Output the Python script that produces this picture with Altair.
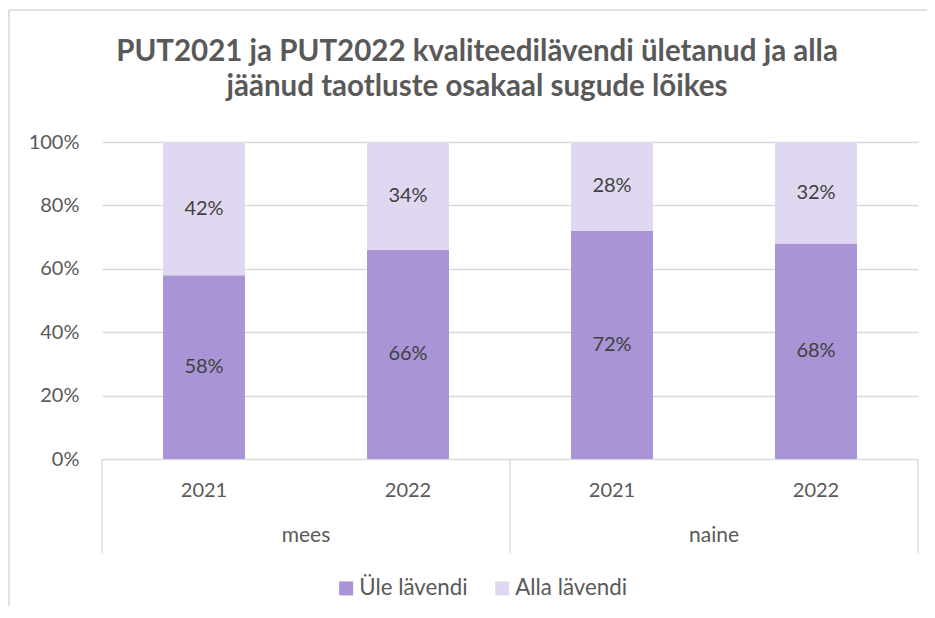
import altair as alt
import pandas as pd

# ---- data ----
genders = ["mees", "mees", "naine", "naine"]
years = ["2021", "2022", "2021", "2022"]
ule_values = [58, 66, 72, 68]      # Üle lävendi (%)
alla_values = [42, 34, 28, 32]     # Alla lävendi (%)
series_names = ["Üle lävendi", "Alla lävendi"]
series_colors = ["#A994D6", "#E0D8F0"]
title_lines = ["PUT2021 ja PUT2022 kvaliteedilävendi ületanud ja alla",
               "jäänud taotluste osakaal sugude lõikes"]
y_ticks = [0, 20, 40, 60, 80, 100]

FONT = "Lato"
TXT = "#595959"
GRID = "#D9D9D9"

# ---- tables built from the arrays ----
rows = []
for i, (g, yv, u, a) in enumerate(zip(genders, years, ule_values, alla_values)):
    pos = i + 0.5
    rows.append(dict(pos=pos, gender=g, year=yv, series=series_names[0], value=u, ord=0,
                     mid=u / 2, label=f"{u}%"))
    rows.append(dict(pos=pos, gender=g, year=yv, series=series_names[1], value=a, ord=1,
                     mid=u + a / 2, label=f"{a}%"))
df = pd.DataFrame(rows)

cats = pd.DataFrame({"pos": [i + 0.5 for i in range(len(years))], "year": years})
unique_g = list(dict.fromkeys(genders))
grp = pd.DataFrame({
    "gender": unique_g,
    "center": [sum(i + 0.5 for i, g in enumerate(genders) if g == ug) / genders.count(ug)
               for ug in unique_g],
})
seps = pd.DataFrame({"sep": [0] + [i + 1 for i in range(len(genders) - 1)
                                   if genders[i] != genders[i + 1]] + [len(genders)]})

xscale = alt.Scale(domain=[0, len(years)], nice=False, zero=False, padding=0)
yscale = alt.Scale(domain=[0, 100], nice=False)

yaxis = alt.Axis(values=y_ticks, labelExpr="datum.value + '%'",
                 grid=True, gridColor=GRID, gridWidth=1.3, domain=False, ticks=False,
                 labelPadding=23, labelFontSize=20, labelFont=FONT,
                 labelColor=TXT, title=None)

bars = alt.Chart(df).mark_bar(size=82).encode(
    x=alt.X("pos:Q", scale=xscale, axis=None),
    y=alt.Y("value:Q", stack="zero", scale=yscale, axis=yaxis, title=None),
    color=alt.Color("series:N",
                    scale=alt.Scale(domain=series_names, range=series_colors),
                    sort=series_names,
                    legend=alt.Legend(orient="none", legendX=233, legendY=435,
                                      direction="horizontal", title=None,
                                      symbolType="square", symbolSize=196,
                                      symbolStrokeWidth=0, labelFontSize=22.3,
                                      labelFont=FONT, labelColor=TXT,
                                      columnPadding=23, labelOffset=2, padding=0)),
    order=alt.Order("ord:Q"),
)

labels = alt.Chart(df).mark_text(font=FONT, fontSize=20, color="#404040",
                                 baseline="middle").encode(
    x=alt.X("pos:Q", scale=xscale, axis=None),
    y=alt.Y("mid:Q", scale=yscale, axis=yaxis, title=None),
    text="label:N",
)

year_text = alt.Chart(cats).mark_text(font=FONT, fontSize=20, color=TXT,
                                      baseline="middle").encode(
    x=alt.X("pos:Q", scale=xscale, axis=None),
    y=alt.value(349),
    text="year:N",
)

gender_text = alt.Chart(grp).mark_text(font=FONT, fontSize=21, color=TXT,
                                       baseline="middle").encode(
    x=alt.X("center:Q", scale=xscale, axis=None),
    y=alt.value(394),
    text="gender:N",
)

sep_rules = alt.Chart(seps).mark_rule(color=GRID, strokeWidth=1.3).encode(
    x=alt.X("sep:Q", scale=xscale, axis=None),
    y=alt.value(317),
    y2=alt.value(411),
)

frame_src = pd.DataFrame({"k": [0]})
frame_left = alt.Chart(frame_src).mark_rule(color=GRID, strokeWidth=1.5).encode(
    x=alt.value(-93), y=alt.value(-132), y2=alt.value(480))
frame_top = alt.Chart(frame_src).mark_rule(color=GRID, strokeWidth=1.5).encode(
    x=alt.value(-93), x2=alt.value(840), y=alt.value(-132))

title1 = alt.Chart(pd.DataFrame({"t": [title_lines[0]]})).mark_text(
    font=FONT, fontSize=29.5, fontWeight="bold", color=TXT, align="center",
    baseline="alphabetic").encode(x=alt.value(375), y=alt.value(-81), text="t:N")
title2 = alt.Chart(pd.DataFrame({"t": [title_lines[1]]})).mark_text(
    font=FONT, fontSize=29.5, fontWeight="bold", color=TXT, align="center",
    baseline="alphabetic").encode(x=alt.value(375), y=alt.value(-46), text="t:N")

chart = alt.layer(frame_left, frame_top, sep_rules, bars, labels, year_text,
                  gender_text, title1, title2).properties(
    width=816, height=317,
    padding={"left": 94, "top": 134, "right": 9, "bottom": 147},
    autosize=alt.AutoSizeParams(type="none"),
).configure_view(stroke=None)

chart.save("out.html", embed_options={"renderer": "svg", "actions": False})
